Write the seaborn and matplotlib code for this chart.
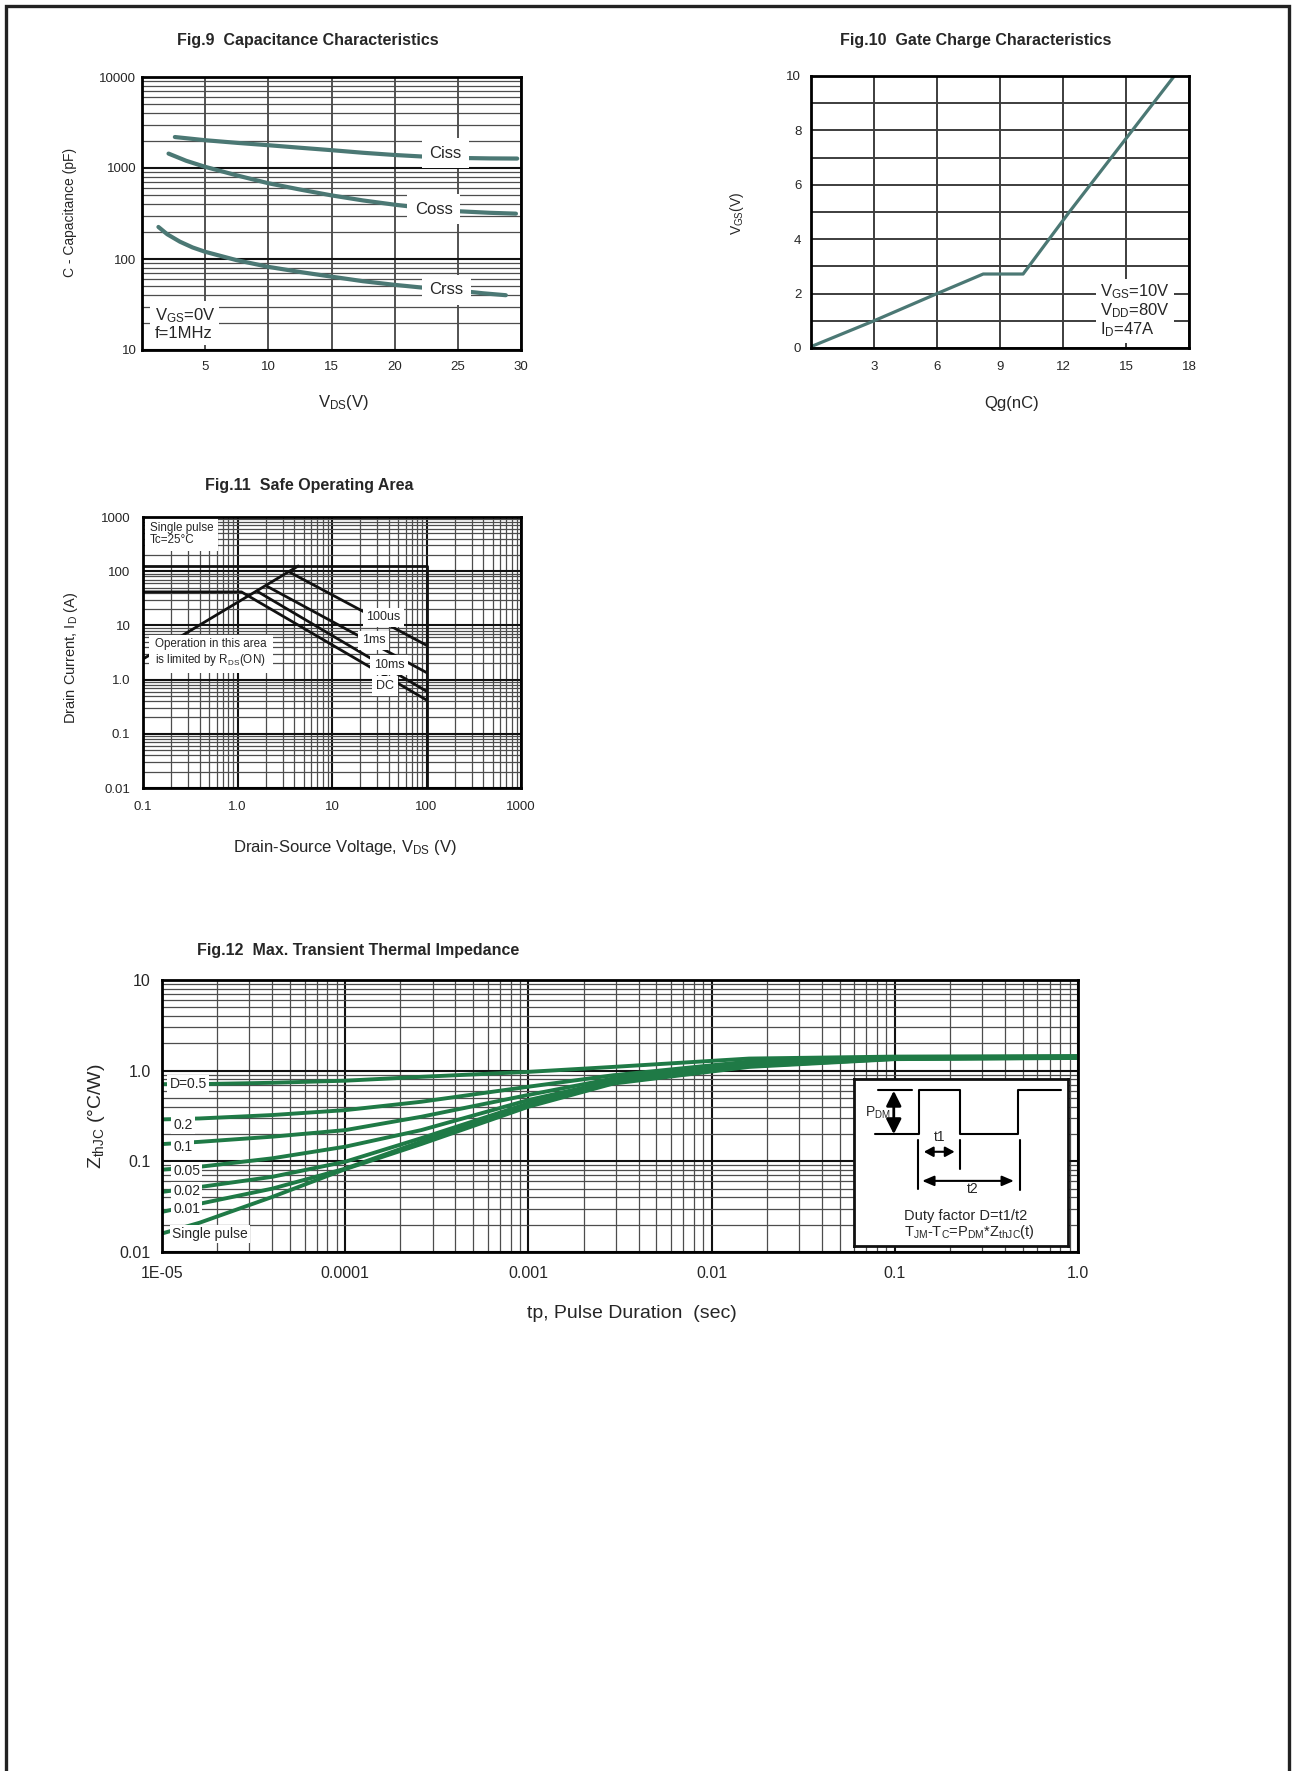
import matplotlib
matplotlib.use("Agg")
import matplotlib.pyplot as plt
import seaborn as sns
from matplotlib.ticker import LogLocator, NullFormatter
from matplotlib.patches import Rectangle

# ---------------- data ----------------
# Fig.9 capacitance (pF) vs VDS (V)
ciss_vds = [2.6, 5, 7.5, 10, 12.5, 15, 17.5, 20, 22.5, 25, 27.5, 29.7]
ciss_pf = [2190, 2020, 1890, 1780, 1670, 1570, 1470, 1390, 1330, 1290, 1275, 1270]
coss_vds = [2.1, 3.5, 5, 7.5, 10, 12.5, 15, 17.5, 20, 22.5, 25, 27.5, 29.6]
coss_pf = [1440, 1200, 1030, 830, 680, 580, 500, 440, 395, 360, 335, 322, 315]
crss_vds = [1.3, 2, 3, 4, 5, 7.5, 10, 12.5, 15, 17.5, 20, 22.5, 25, 27, 28.8]
crss_pf = [225, 187, 155, 134, 120, 97, 82, 72, 64, 57, 52, 48, 45, 42, 40]

# Fig.10 gate charge
qg_nc = [0, 3, 6, 8.2, 10.1, 12.3, 15.3, 17.3]
vgs_v = [0.05, 1.0, 2.0, 2.72, 2.72, 5.0, 8.0, 10.0]

# Fig.11 safe operating area (VDS in V, ID in A)
limit_vds = [0.1, 100, 100]
limit_id = [125, 125, 0.01]
dc_vds = [0.1, 1.1, 100]
dc_id = [41.5, 41.5, 0.42]
rds_vds = [0.1, 4.4]
rds_id = [2.4, 125]
ms10_vds = [1.6, 100]
ms10_id = [43, 0.61]
ms1_vds = [2.0, 100]
ms1_id = [54, 1.35]
us100_vds = [3.6, 100]
us100_id = [95, 4.3]

# Fig.12 transient thermal impedance
tp_sec = [1e-5, 1.6e-5, 4e-5, 1e-4, 2.6e-4, 1e-3, 2.9e-3, 1.6e-2, 0.1, 1.0]
zth_d05 = [0.71, 0.711, 0.735, 0.775, 0.855, 0.97, 1.10, 1.36, 1.43, 1.45]
zth_d02 = [0.29, 0.297, 0.324, 0.367, 0.454, 0.665, 0.89, 1.26, 1.40, 1.43]
zth_d01 = [0.155, 0.164, 0.187, 0.221, 0.31, 0.54, 0.82, 1.20, 1.38, 1.42]
zth_d005 = [0.081, 0.087, 0.108, 0.145, 0.221, 0.474, 0.77, 1.18, 1.37, 1.41]
zth_d002 = [0.046, 0.052, 0.0675, 0.099, 0.18, 0.436, 0.755, 1.15, 1.36, 1.40]
zth_d001 = [0.0277, 0.034, 0.050, 0.083, 0.165, 0.417, 0.736, 1.12, 1.35, 1.39]
zth_single = [0.016, 0.021, 0.0405, 0.082, 0.155, 0.40, 0.72, 1.10, 1.34, 1.38]

TEAL = "#4b7874"
GREEN = "#1f7a46"

sns.set_style("white")
plt.rcParams["font.family"] = ["Liberation Sans", "DejaVu Sans"]
plt.rcParams["mathtext.default"] = "regular"

W, H = 1292, 1771
fig = plt.figure(figsize=(W / 100, H / 100), dpi=100)


def px_axes(left, top, right, bottom):
    return fig.add_axes([left / W, 1 - bottom / H, (right - left) / W, (bottom - top) / H])


def draw(ax, x, y, color, lw):
    sns.lineplot(x=x, y=y, ax=ax, color=color, lw=lw, sort=False,
                 estimator=None, legend=False)


def frame(ax):
    for s in ax.spines.values():
        s.set_visible(True)
        s.set_linewidth(2)
        s.set_color("black")
        s.set_zorder(6)
    ax.tick_params(which="both", length=0)
    ax.set_axisbelow(True)


def log_grid(ax, axis="both"):
    axes = [ax.xaxis, ax.yaxis] if axis == "both" else [getattr(ax, axis + "axis")]
    for a in axes:
        a.set_minor_locator(LogLocator(base=10, subs=range(2, 10), numticks=100))
        a.set_minor_formatter(NullFormatter())
        a.grid(True, which="major", color="#111111", lw=1.5)
        a.grid(True, which="minor", color="#4d4d4d", lw=0.9)


# ---------------- Fig.9 ----------------
ax9 = px_axes(142, 77, 521, 350)
draw(ax9, ciss_vds, ciss_pf, TEAL, 3)
draw(ax9, coss_vds, coss_pf, TEAL, 3)
draw(ax9, crss_vds, crss_pf, TEAL, 3)
ax9.set_yscale("log")
ax9.set_xlim(0, 30)
ax9.set_ylim(10, 10000)
ax9.set_xticks([5, 10, 15, 20, 25, 30])
ax9.set_yticks([10, 100, 1000, 10000], ["10", "100", "1000", "10000"])
log_grid(ax9, "y")
ax9.xaxis.grid(True, color="#444444", lw=1.3)
frame(ax9)
ax9.tick_params(axis="x", labelsize=9.5, pad=8)
ax9.tick_params(axis="y", labelsize=9.5, pad=4)
ax9.set_xlabel("V$_{DS}$(V)", fontsize=12, va="center")
ax9.xaxis.set_label_coords(0.531, -0.193)
ax9.set_ylabel("C - Capacitance (pF)", fontsize=10, va="center")
ax9.yaxis.set_label_coords(-0.19, 0.503)
big_box = dict(boxstyle="square,pad=0.45", fc="white", ec="none")
ax9.text(24.0, 1460, "Ciss", fontsize=12, ha="center", va="center", bbox=big_box)
ax9.text(23.1, 350, "Coss", fontsize=12, ha="center", va="center", bbox=big_box)
ax9.text(24.1, 46, "Crss", fontsize=12, ha="center", va="center", bbox=big_box)
ax9.text(1.0, 19.5, "V$_{GS}$=0V\nf=1MHz", fontsize=12, ha="left", va="center",
         linespacing=1.05, bbox=dict(boxstyle="square,pad=0.25", fc="white", ec="none"))
fig.text(308 / W, 1 - 40.7 / H, "Fig.9  Capacitance Characteristics",
         fontsize=11.5, fontweight="bold", ha="center", va="center")

# ---------------- Fig.10 ----------------
ax10 = px_axes(811, 76, 1189, 348)
draw(ax10, qg_nc, vgs_v, TEAL, 2.3)
ax10.set_xlim(0, 18)
ax10.set_ylim(0, 10)
ax10.set_xticks([3, 6, 9, 12, 15, 18])
ax10.set_yticks([0, 2, 4, 6, 8, 10])
ax10.set_yticks([1, 3, 5, 7, 9], minor=True)
ax10.grid(True, which="both", color="#3d3d3d", lw=1.4)
frame(ax10)
ax10.tick_params(axis="x", labelsize=9.5, pad=9)
ax10.tick_params(axis="y", labelsize=9.5, pad=7)
ax10.set_xlabel("Qg(nC)", fontsize=12, va="center")
ax10.xaxis.set_label_coords(0.531, -0.203)
ax10.set_ylabel("V$_{GS}$(V)", fontsize=10, va="center")
ax10.yaxis.set_label_coords(-0.196, 0.497)
ax10.text(13.75, 1.37, "V$_{GS}$=10V\nV$_{DD}$=80V\nI$_D$=47A", fontsize=12,
          ha="left", va="center", linespacing=1.0,
          bbox=dict(boxstyle="square,pad=0.25", fc="white", ec="none"))
fig.text(976 / W, 1 - 40 / H, "Fig.10  Gate Charge Characteristics",
         fontsize=11.5, fontweight="bold", ha="center", va="center")

# ---------------- Fig.11 ----------------
ax11 = px_axes(143, 517, 521, 788)
for xs, ys in [(limit_vds, limit_id), (dc_vds, dc_id), (rds_vds, rds_id),
               (ms10_vds, ms10_id), (ms1_vds, ms1_id), (us100_vds, us100_id)]:
    draw(ax11, xs, ys, "#111111", 2)
ax11.set_xscale("log")
ax11.set_yscale("log")
ax11.set_xlim(0.1, 1000)
ax11.set_ylim(0.01, 1000)
ax11.set_xticks([0.1, 1, 10, 100, 1000], ["0.1", "1.0", "10", "100", "1000"])
ax11.set_yticks([0.01, 0.1, 1, 10, 100, 1000],
                ["0.01", "0.1", "1.0", "10", "100", "1000"])
log_grid(ax11)
frame(ax11)
ax11.tick_params(axis="x", labelsize=9.5, pad=9)
ax11.tick_params(axis="y", labelsize=9.5, pad=9)
ax11.set_xlabel("Drain-Source Voltage, V$_{DS}$ (V)", fontsize=12, va="center")
ax11.xaxis.set_label_coords(0.535, -0.22)
ax11.set_ylabel("Drain Current, I$_D$ (A)", fontsize=10.5, va="center")
ax11.yaxis.set_label_coords(-0.19, 0.48)
small_box = dict(boxstyle="square,pad=0.3", fc="white", ec="none")
ax11.text(35, 14, "100us", fontsize=9, ha="center", va="center", bbox=small_box)
ax11.text(27.5, 5.3, "1ms", fontsize=9, ha="center", va="center", bbox=small_box)
ax11.text(40.5, 1.85, "10ms", fontsize=9, ha="center", va="center", bbox=small_box)
ax11.text(36.5, 0.77, "DC", fontsize=9, ha="center", va="center", bbox=small_box)
ax11.text(0.135, 3.1, "Operation in this area\nis limited by R$_{DS}$(ON)", fontsize=8.4,
          ha="left", va="center", linespacing=1.1,
          bbox=dict(boxstyle="square,pad=0.5", fc="white", ec="none"))
ax11.text(0.118, 480, "Single pulse\nTc=25°C", fontsize=8.4, ha="left", va="center",
          linespacing=1.0, bbox=dict(boxstyle="square,pad=0.4", fc="white", ec="none"))
fig.text(309 / W, 1 - 485.7 / H, "Fig.11  Safe Operating Area",
         fontsize=11.5, fontweight="bold", ha="center", va="center")

# ---------------- Fig.12 ----------------
ax12 = px_axes(162, 980, 1078, 1252)
for zth in [zth_d05, zth_d02, zth_d01, zth_d005, zth_d002, zth_d001, zth_single]:
    draw(ax12, tp_sec, zth, GREEN, 2.8)
ax12.set_xscale("log")
ax12.set_yscale("log")
ax12.set_xlim(1e-5, 1)
ax12.set_ylim(0.01, 10)
ax12.set_xticks([1e-5, 1e-4, 1e-3, 1e-2, 0.1, 1],
                ["1E-05", "0.0001", "0.001", "0.01", "0.1", "1.0"])
ax12.set_yticks([0.01, 0.1, 1, 10], ["0.01", "0.1", "1.0", "10"])
log_grid(ax12)
frame(ax12)
ax12.tick_params(axis="x", labelsize=11.5, pad=10)
ax12.tick_params(axis="y", labelsize=11.5, pad=8)
ax12.set_xlabel("tp, Pulse Duration  (sec)", fontsize=14, va="center")
ax12.xaxis.set_label_coords(0.513, -0.226)
ax12.set_ylabel("Z$_{thJC}$ (°C/W)", fontsize=14, va="center")
ax12.yaxis.set_label_coords(-0.072, 0.5)
lab_box = dict(boxstyle="square,pad=0.15", fc="white", ec="none")
ax12.text(1.1e-5, 0.72, "D=0.5", fontsize=10, ha="left", va="center", bbox=lab_box)
for yv, txt in [(0.251, "0.2"), (0.145, "0.1"), (0.0787, "0.05"),
                (0.0469, "0.02"), (0.0297, "0.01")]:
    ax12.text(1.15e-5, yv, txt, fontsize=10, ha="left", va="center", bbox=lab_box)
ax12.text(1.13e-5, 0.0157, "Single pulse", fontsize=10, ha="left", va="center",
          bbox=lab_box)

# duty-cycle inset
ins = ax12.inset_axes([0.756, 0.021, 0.233, 0.615])
ins.set_xlim(0, 1)
ins.set_ylim(0, 1)
ins.set_xticks([])
ins.set_yticks([])
ins.set_facecolor("white")
for s in ins.spines.values():
    s.set_linewidth(2)
    s.set_color("#111111")
ins.plot([0.098, 0.302, 0.302, 0.492, 0.492, 0.767, 0.767, 0.966],
         [0.669, 0.669, 0.932, 0.932, 0.669, 0.669, 0.932, 0.932], color="black", lw=1.5)
ins.plot([0.111, 0.270], [0.932, 0.932], color="black", lw=1.5)
ins.plot([0.297, 0.297], [0.345, 0.635], color="black", lw=1.5)
ins.plot([0.492, 0.492], [0.465, 0.635], color="black", lw=1.5)
ins.plot([0.775, 0.775], [0.335, 0.635], color="black", lw=1.5)
ins.annotate("", xy=(0.184, 0.93), xytext=(0.184, 0.67),
             arrowprops=dict(arrowstyle="<|-|>,head_length=0.9,head_width=0.45",
                             color="black", lw=2, shrinkA=0, shrinkB=0))
ins.annotate("", xy=(0.325, 0.565), xytext=(0.469, 0.565),
             arrowprops=dict(arrowstyle="<|-|>,head_length=0.55,head_width=0.3",
                             color="black", lw=1.5, shrinkA=0, shrinkB=0))
ins.annotate("", xy=(0.317, 0.391), xytext=(0.747, 0.391),
             arrowprops=dict(arrowstyle="<|-|>,head_length=0.7,head_width=0.3",
                             color="black", lw=1.5, shrinkA=0, shrinkB=0))
ins.text(0.17, 0.80, "P$_{DM}$", fontsize=10, ha="right", va="center")
ins.text(0.398, 0.655, "t1", fontsize=10, ha="center", va="center")
ins.text(0.552, 0.345, "t2", fontsize=10, ha="center", va="center")
ins.text(0.234, 0.18, "Duty factor D=t1/t2", fontsize=10.5, ha="left", va="center")
ins.text(0.234, 0.086, "T$_{JM}$-T$_C$=P$_{DM}$*Z$_{thJC}$(t)", fontsize=10.5,
         ha="left", va="center")
fig.text(358 / W, 1 - 950 / H, "Fig.12  Max. Transient Thermal Impedance",
         fontsize=11.5, fontweight="bold", ha="center", va="center")

# page frame (open at the bottom)
fig.add_artist(Rectangle((5.5 / W, -0.02), (1289 - 5.5) / W, 1.02 - 6 / H,
                         transform=fig.transFigure, fill=False, ec="#222222", lw=2.4))

fig.savefig("out.png", dpi=100)
